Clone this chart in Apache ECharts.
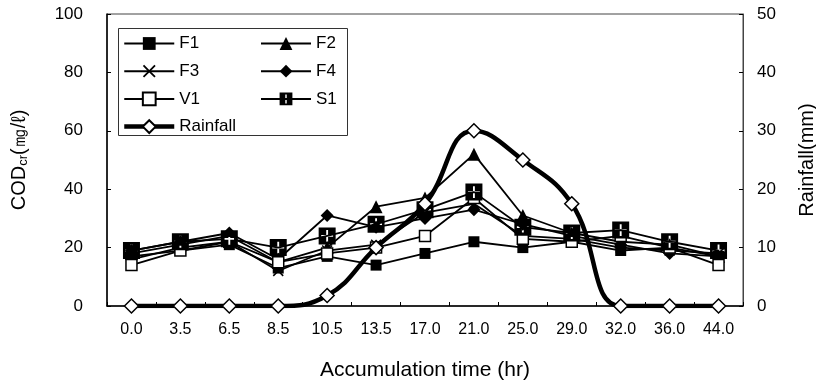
<!DOCTYPE html>
<html>
<head>
<meta charset="utf-8">
<script src="https://cdn.jsdelivr.net/npm/echarts@6/dist/echarts.min.js"></script>
<style>html,body{margin:0;padding:0;background:#fff}#c{width:816px;height:384px}</style>
</head>
<body>
<div id="c"></div>
<script>
const categories = ['0.0','3.5','6.5','8.5','10.5','13.5','17.0','21.0','25.0','29.0','32.0','36.0','44.0'];
const F1 = [17, 19, 21, 13, 17, 14, 18, 22, 20, 22, 19, 20, 17];
const F2 = [18, 21, 24, 15, 20, 34, 37, 52, 31, 25, 22, 21, 17];
const F3 = [16, 20, 22, 12, 19, 21, 32, 35, 24, 23, 20, 19, 18];
const F4 = [19, 22, 25, 16, 31, 27, 30, 33, 28, 24, 21, 18, 17];
const V1 = [14, 19, 22, 15, 18, 20, 24, 37, 23, 22, 24, 20, 14];
const S1 = [19, 22, 23, 20, 24, 28, 33, 39, 27, 25, 26, 22, 19];
const Rainfall = [0, 0, 0, 0, 1.8, 10, 17.5, 30, 25, 17.5, 0, 0, 0];
const leftTicks = [0, 20, 40, 60, 80, 100];
const rightTicks = [0, 10, 20, 30, 40, 50];

const FONT = 'Liberation Sans';
const xPath = 'path://M0,2 L2,0 L10,8 L18,0 L20,2 L12,10 L20,18 L18,20 L10,12 L2,20 L0,18 L8,10 Z';
const s1Path = 'path://M0,0 L20,0 L20,20 L0,20 Z M8.9,3 L8.9,8.9 L3,8.9 L3,11.1 L8.9,11.1 L8.9,17 L11.1,17 L11.1,11.1 L17,11.1 L17,8.9 L11.1,8.9 L11.1,3 Z';

function cod(name, data, symbol, size, fill, border) {
  return {
    name: name, type: 'line', data: data, yAxisIndex: 0,
    symbol: symbol, symbolSize: size, symbolKeepAspect: true,
    lineStyle: { color: '#000', width: 1.8 },
    itemStyle: { color: fill, borderColor: '#000', borderWidth: border },
    emphasis: { disabled: true }, animation: false
  };
}

const chart = echarts.init(document.getElementById('c'), null, { renderer: 'canvas' });
chart.setOption({
  backgroundColor: '#fff',
  animation: false,
  textStyle: { fontFamily: FONT, color: '#000' },
  grid: { left: 107, right: 73, top: 14, bottom: 78, show: true, borderColor: '#444', borderWidth: 1,
          containLabel: false, outerBoundsMode: 'none' },
  legend: [
    { data: ['F1', 'F3', 'V1', { name: 'Rainfall', lineStyle: { width: 4.5, color: '#000' } }],
      orient: 'vertical', left: 122, top: 35, padding: 0,
      itemWidth: 50, itemHeight: 16, itemGap: 10.7,
      textStyle: { fontFamily: FONT, fontSize: 17, color: '#000', lineHeight: 16 } },
    { data: ['F2', 'F4', 'S1'], orient: 'vertical', left: 260, top: 35, padding: 0,
      itemWidth: 50, itemHeight: 16, itemGap: 10.7,
      textStyle: { fontFamily: FONT, fontSize: 17, color: '#000', lineHeight: 16 } }
  ],
  graphic: [
    { type: 'rect', shape: { x: 118.5, y: 28.5, width: 229, height: 107 },
      style: { fill: 'none', stroke: '#333', lineWidth: 1 }, z: 100, silent: true }
  ],
  xAxis: {
    type: 'category', data: categories, boundaryGap: true,
    name: 'Accumulation time (hr)', nameLocation: 'middle', nameGap: 54,
    nameTextStyle: { fontFamily: FONT, fontSize: 21, color: '#000' },
    axisLine: { lineStyle: { color: '#000', width: 1.5 } },
    axisTick: { show: true, inside: true, length: 4, lineStyle: { color: '#000' } },
    axisLabel: { fontFamily: FONT, fontSize: 16, color: '#000', margin: 16 },
    splitLine: { show: false }
  },
  yAxis: [
    { type: 'value', min: leftTicks[0], max: leftTicks[leftTicks.length - 1], interval: 20, position: 'left',
      name: '{a|COD}{b|cr}{a|(㎎/ℓ)}', nameLocation: 'middle', nameGap: 77, nameRotate: 90,
      nameTextStyle: { rich: { a: { fontFamily: FONT, fontSize: 20, color: '#000' }, b: { fontFamily: FONT, fontSize: 13, color: '#000', padding: [8, 0, 0, 0] } } },
      axisLine: { show: true, lineStyle: { color: '#000', width: 1.5 } },
      axisTick: { show: true, inside: true, length: 4, lineStyle: { color: '#000' } },
      axisLabel: { fontFamily: FONT, fontSize: 17, color: '#000', margin: 24 },
      splitLine: { show: false } },
    { type: 'value', min: rightTicks[0], max: rightTicks[rightTicks.length - 1], interval: 10, position: 'right',
      name: 'Rainfall(mm)', nameLocation: 'middle', nameGap: 54, nameRotate: 90,
      nameTextStyle: { fontFamily: FONT, fontSize: 20, color: '#000' },
      axisLine: { show: true, lineStyle: { color: '#444', width: 1 } },
      axisTick: { show: true, inside: true, length: 4, lineStyle: { color: '#000' } },
      axisLabel: { fontFamily: FONT, fontSize: 17, color: '#000', margin: 14 },
      splitLine: { show: false } }
  ],
  series: [
    cod('F1', F1, 'rect', 11, '#000', 0),
    cod('F2', F2, 'triangle', 13, '#000', 0),
    cod('F3', F3, xPath, 11, '#000', 0),
    cod('F4', F4, 'diamond', 13, '#000', 0),
    cod('V1', V1, 'rect', 11, '#fff', 1.5),
    cod('S1', S1, s1Path, 17, '#000', 0),
    { name: 'Rainfall', type: 'line', data: Rainfall, yAxisIndex: 1, smooth: 0.45,
      symbol: 'diamond', symbolSize: 14,
      lineStyle: { color: '#000', width: 4.5 },
      itemStyle: { color: '#fff', borderColor: '#000', borderWidth: 1.5 },
      emphasis: { disabled: true }, animation: false, z: 5 }
  ]
});
</script>
</body>
</html>
